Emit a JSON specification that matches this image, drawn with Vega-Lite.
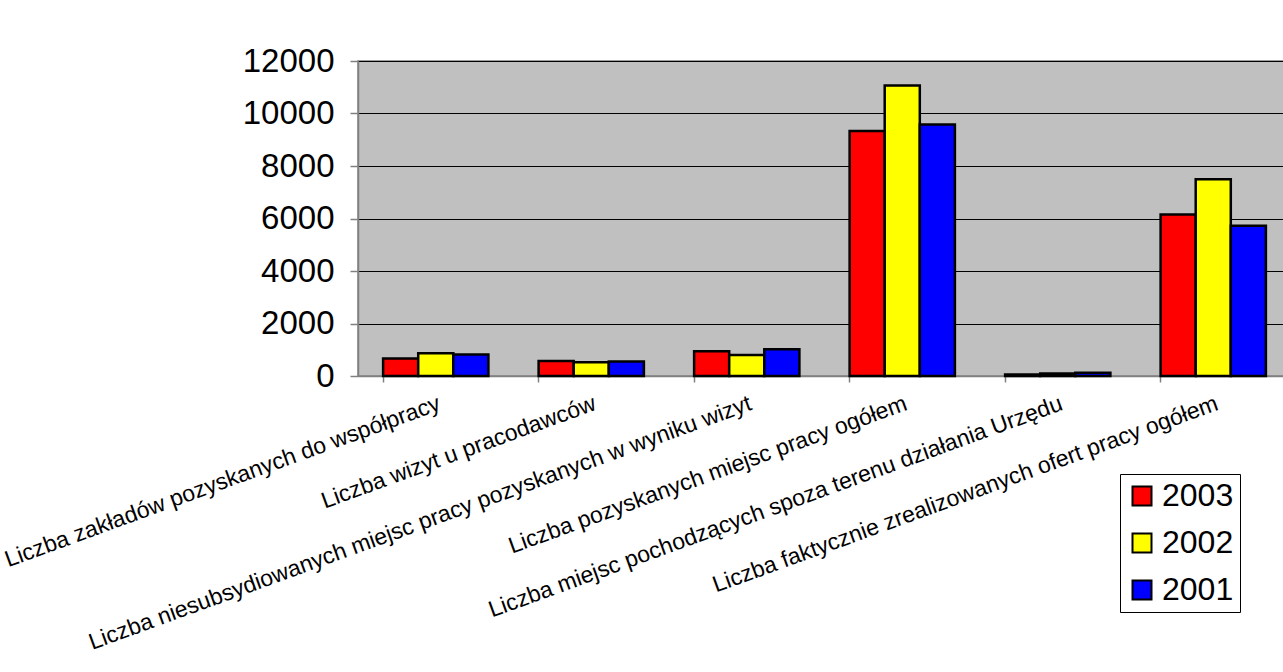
{
  "$schema": "https://vega.github.io/schema/vega-lite/v6.json",
  "autosize": {"type": "none"},
  "padding": {"left": 358, "top": 61, "right": 0, "bottom": 296},
  "width": 933,
  "height": 315,
  "background": "#ffffff",
  "config": {
    "font": "Liberation Sans",
    "view": {"fill": "#c0c0c0", "stroke": "#808080", "strokeWidth": 1.5}
  },
  "data": {
    "values": [
      {"kategoria": "Liczba zakładów pozyskanych do współpracy", "rok": "2003", "wartosc": 670},
      {"kategoria": "Liczba zakładów pozyskanych do współpracy", "rok": "2002", "wartosc": 870},
      {"kategoria": "Liczba zakładów pozyskanych do współpracy", "rok": "2001", "wartosc": 820},
      {"kategoria": "Liczba wizyt u pracodawców", "rok": "2003", "wartosc": 575},
      {"kategoria": "Liczba wizyt u pracodawców", "rok": "2002", "wartosc": 525},
      {"kategoria": "Liczba wizyt u pracodawców", "rok": "2001", "wartosc": 550},
      {"kategoria": "Liczba niesubsydiowanych miejsc pracy pozyskanych w wyniku wizyt", "rok": "2003", "wartosc": 945},
      {"kategoria": "Liczba niesubsydiowanych miejsc pracy pozyskanych w wyniku wizyt", "rok": "2002", "wartosc": 800},
      {"kategoria": "Liczba niesubsydiowanych miejsc pracy pozyskanych w wyniku wizyt", "rok": "2001", "wartosc": 1020},
      {"kategoria": "Liczba pozyskanych miejsc pracy ogółem", "rok": "2003", "wartosc": 9330},
      {"kategoria": "Liczba pozyskanych miejsc pracy ogółem", "rok": "2002", "wartosc": 11070},
      {"kategoria": "Liczba pozyskanych miejsc pracy ogółem", "rok": "2001", "wartosc": 9580},
      {"kategoria": "Liczba miejsc pochodzących spoza terenu działania Urzędu", "rok": "2003", "wartosc": 60},
      {"kategoria": "Liczba miejsc pochodzących spoza terenu działania Urzędu", "rok": "2002", "wartosc": 100},
      {"kategoria": "Liczba miejsc pochodzących spoza terenu działania Urzędu", "rok": "2001", "wartosc": 120},
      {"kategoria": "Liczba faktycznie zrealizowanych ofert pracy ogółem", "rok": "2003", "wartosc": 6150},
      {"kategoria": "Liczba faktycznie zrealizowanych ofert pracy ogółem", "rok": "2002", "wartosc": 7500},
      {"kategoria": "Liczba faktycznie zrealizowanych ofert pracy ogółem", "rok": "2001", "wartosc": 5720}
    ]
  },
  "mark": {"type": "bar", "stroke": "#000000", "strokeWidth": 2.5},
  "encoding": {
    "x": {
      "field": "kategoria",
      "type": "nominal",
      "sort": null,
      "title": null,
      "scale": {"paddingInner": 0.323, "paddingOuter": 0.1615},
      "axis": {
        "bandPosition": 0,
        "domainColor": "#808080",
        "domainWidth": 1.5,
        "tickColor": "#808080",
        "tickWidth": 1.5,
        "tickSize": 6,
        "labelAngle": -20,
        "labelAlign": "right",
        "labelBaseline": "top",
        "labelPadding": 10,
        "labelFontSize": 23,
        "labelColor": "#000000",
        "labelLimit": 1000,
        "labelOverlap": false
      }
    },
    "xOffset": {
      "field": "rok",
      "type": "nominal",
      "sort": ["2003", "2002", "2001"],
      "scale": {"paddingInner": 0, "paddingOuter": 0}
    },
    "y": {
      "field": "wartosc",
      "type": "quantitative",
      "title": null,
      "scale": {"domain": [0, 12000], "nice": false},
      "axis": {
        "values": [0, 2000, 4000, 6000, 8000, 10000, 12000],
        "format": "d",
        "grid": true,
        "gridColor": "#000000",
        "gridWidth": 1,
        "gridOpacity": 1,
        "domainColor": "#808080",
        "domainWidth": 1.5,
        "tickColor": "#808080",
        "tickWidth": 1.5,
        "tickSize": 8,
        "labelPadding": 16,
        "labelFontSize": 33,
        "labelColor": "#000000"
      }
    },
    "color": {
      "field": "rok",
      "type": "nominal",
      "sort": ["2003", "2002", "2001"],
      "scale": {"domain": ["2003", "2002", "2001"], "range": ["#ff0000", "#ffff00", "#0000ff"]},
      "legend": {
        "title": null,
        "orient": "none",
        "legendX": 762,
        "legendY": 413,
        "symbolType": "square",
        "symbolSize": 361,
        "symbolStrokeColor": "#000000",
        "symbolStrokeWidth": 2,
        "symbolOpacity": 1,
        "labelFontSize": 32,
        "labelColor": "#000000",
        "labelOffset": 4,
        "labelExpr": "datum.label + ' '",
        "rowPadding": 15,
        "padding": 6,
        "strokeColor": "#000000",
        "fillColor": "#ffffff"
      }
    }
  }
}
